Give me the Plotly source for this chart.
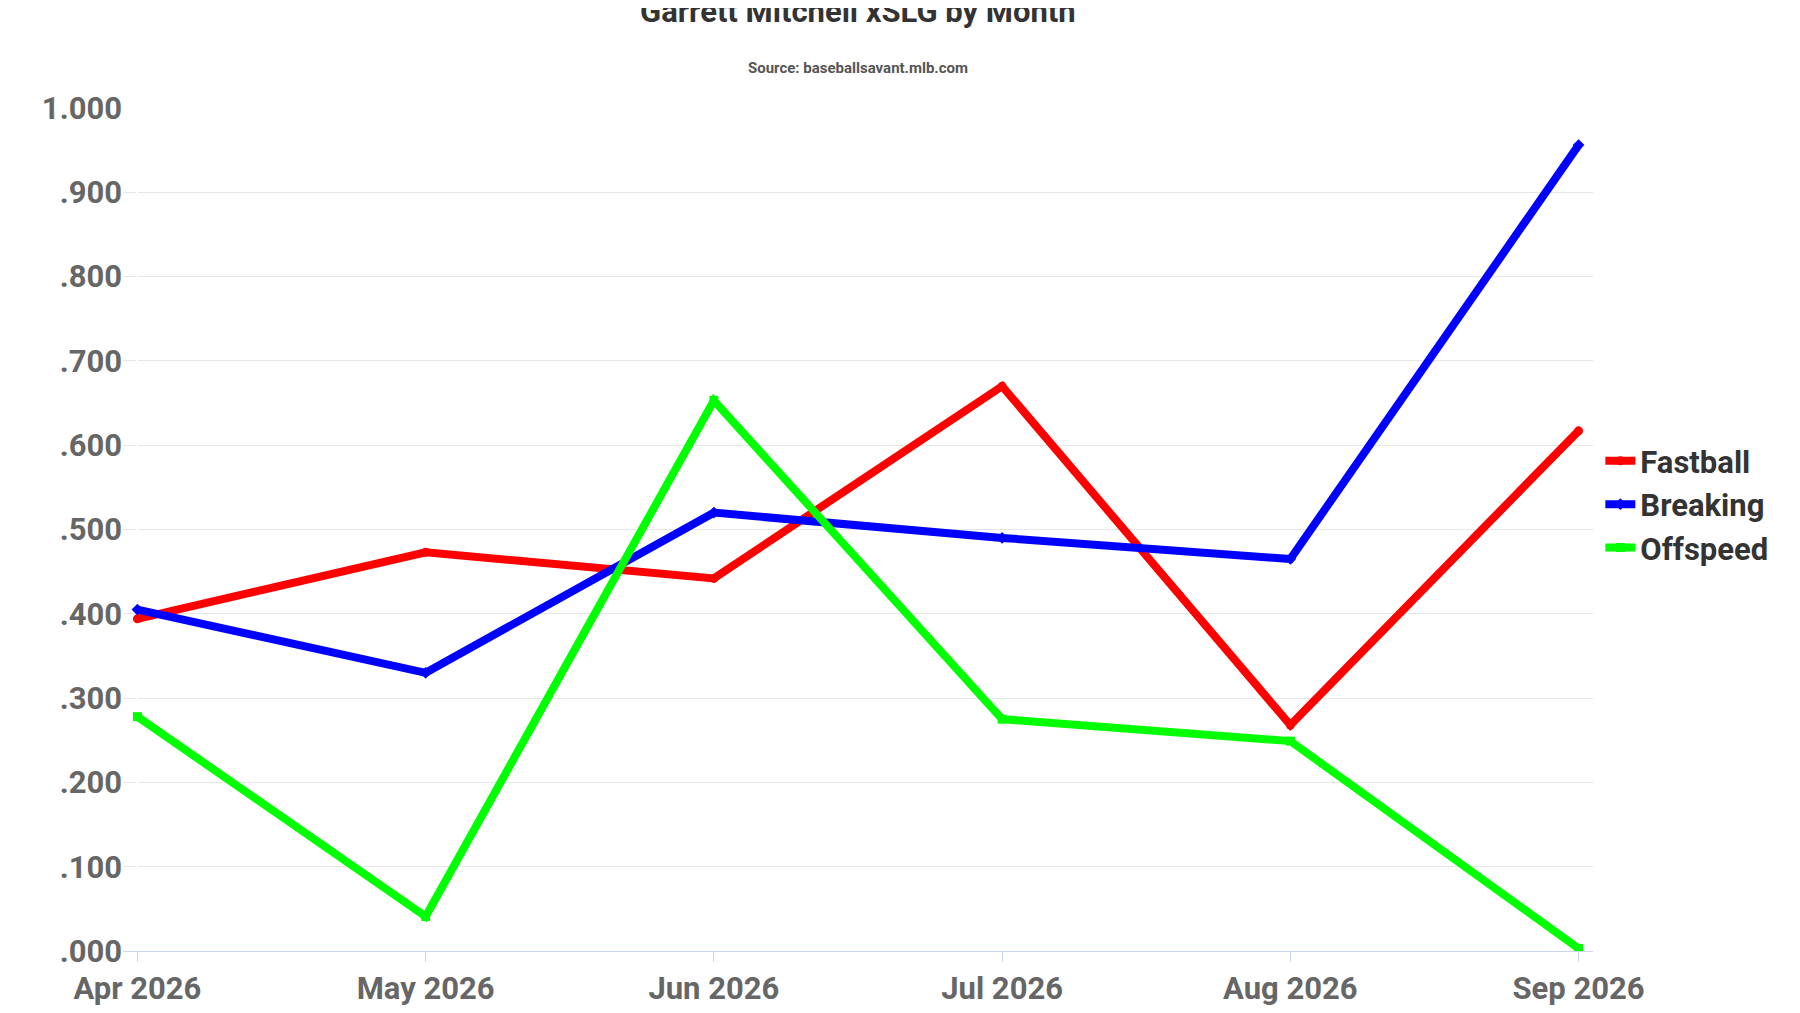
import plotly.graph_objects as go

months = ["Apr 2026", "May 2026", "Jun 2026", "Jul 2026", "Aug 2026", "Sep 2026"]
fastball = [0.394, 0.473, 0.442, 0.670, 0.268, 0.617]
breaking = [0.405, 0.330, 0.520, 0.490, 0.465, 0.956]
offspeed = [0.278, 0.041, 0.653, 0.275, 0.249, 0.003]
series = [("Fastball", fastball, "#ff0000", "circle"),
          ("Breaking", breaking, "#0000ff", "diamond"),
          ("Offspeed", offspeed, "#00ff00", "square")]
yticks = [i / 10 for i in range(11)]
ytext = ["1.000" if v == 1 else ".%03d" % round(v * 1000) for v in yticks]

fig = go.Figure()
for name, vals, col, sym in series:
    fig.add_trace(go.Scatter(x=list(range(len(months))), y=vals, name="<b>%s</b>" % name, mode="lines+markers",
                             line=dict(color=col, width=8), marker=dict(color=col, size=9, symbol=sym)))

fig.update_layout(
    width=1800, height=1013, plot_bgcolor="white", paper_bgcolor="white",
    font=dict(family="Roboto", color="#333"),
    margin=dict(l=115, r=215, t=100, b=70),
    legend=dict(x=1.005, xanchor="left", y=0.53, yanchor="middle", font=dict(size=31, color="#333"),
                itemwidth=30, tracegroupgap=2),
    showlegend=True,
    annotations=[
        dict(text="<b>Garrett Mitchell xSLG by Month</b>", x=0.5, xref="paper", xanchor="center",
             y=1013 - 30, yref=None, showarrow=False, font=dict(size=31, color="#333")),
    ],
)
fig.layout.annotations = []
fig.add_annotation(text="<b>Garrett Mitchell xSLG by Month</b>", xref="paper", yref="paper",
                   x=0.5, y=1.115, xanchor="center", yanchor="middle", showarrow=False,
                   font=dict(size=31, color="#333"))
fig.add_annotation(text="<b>Source: baseballsavant.mlb.com</b>", xref="paper", yref="paper",
                   x=0.5, y=1.047, xanchor="center", yanchor="middle", showarrow=False,
                   font=dict(size=15, color="#555"))
fig.update_xaxes(tickvals=list(range(len(months))), ticktext=["<b>%s</b>" % m for m in months],
                 range=[-0.05, 5.05], showgrid=False, showline=True, linecolor="#ccd6eb",
                 ticks="outside", tickcolor="#ccd6eb", ticklen=10,
                 tickfont=dict(size=31, color="#666"))
fig.update_yaxes(tickvals=yticks, ticktext=["<b>%s</b>" % t for t in ytext], range=[0, 1.0],
                 showgrid=True, gridcolor="#e6e6e6", zeroline=False,
                 tickfont=dict(size=31, color="#666"))
fig.write_html("out.html")
